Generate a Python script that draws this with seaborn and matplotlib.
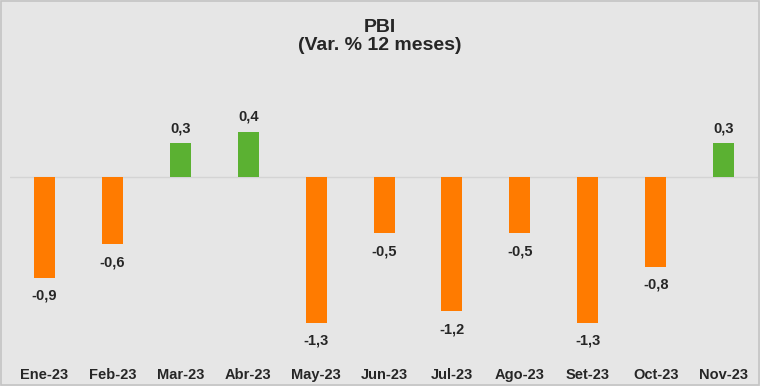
import matplotlib
matplotlib.use("Agg")
import matplotlib.pyplot as plt
import seaborn as sns
import pandas as pd

# data
meses = ["Ene-23", "Feb-23", "Mar-23", "Abr-23", "May-23", "Jun-23",
         "Jul-23", "Ago-23", "Set-23", "Oct-23", "Nov-23"]
valores = [-0.9, -0.6, 0.3, 0.4, -1.3, -0.5, -1.2, -0.5, -1.3, -0.8, 0.3]

naranja = "#FF7B00"
verde = "#5BB132"
fondo = "#E6E6E6"

df = pd.DataFrame({"mes": meses, "var": valores})
colores = [verde if v > 0 else naranja for v in valores]

sns.set_style("white")
plt.rcParams["font.family"] = ["Liberation Sans", "DejaVu Sans"]

fig = plt.figure(figsize=(7.6, 3.86), dpi=100, facecolor=fondo)
ax = fig.add_axes([0.0138, 0.093, 0.983, 0.622])
ax.set_facecolor(fondo)

sns.barplot(data=df, x="mes", y="var", hue="mes", palette=colores,
            width=0.31, legend=False, ax=ax, saturation=1, linewidth=0)

ax.axhline(0, color="#D4D4D4", lw=1, zorder=0)
ax.set_xlim(-0.5, 10.5)
ax.set_ylim(-1.545, 0.598)
ax.set_yticks([])
ax.set_xlabel("")
ax.set_ylabel("")
for s in ax.spines.values():
    s.set_visible(False)

ax.tick_params(axis="x", length=0, pad=13)
for lbl in ax.get_xticklabels():
    lbl.set_fontsize(10.5)
    lbl.set_fontweight("bold")

# data labels with decimal comma
for i, v in enumerate(valores):
    txt = f"{v:.1f}".replace(".", ",")
    off = 11 if v > 0 else -13
    ax.annotate(txt, (i, v), xytext=(0, off), textcoords="offset points",
                ha="center", va="center", fontsize=10.5, fontweight="bold")

fig.text(0.5, 0.929, "PBI", ha="center", va="center", fontsize=14, fontweight="bold")
fig.text(0.5, 0.881, "(Var. % 12 meses)", ha="center", va="center", fontsize=14, fontweight="bold")

# thin frame round the picture
fig.patches.append(plt.Rectangle((0.001, 0.002), 0.998, 0.996, transform=fig.transFigure,
                                 fill=False, edgecolor="#C4C4C4", lw=1.2))

fig.savefig("out.png", dpi=100, facecolor=fondo)
